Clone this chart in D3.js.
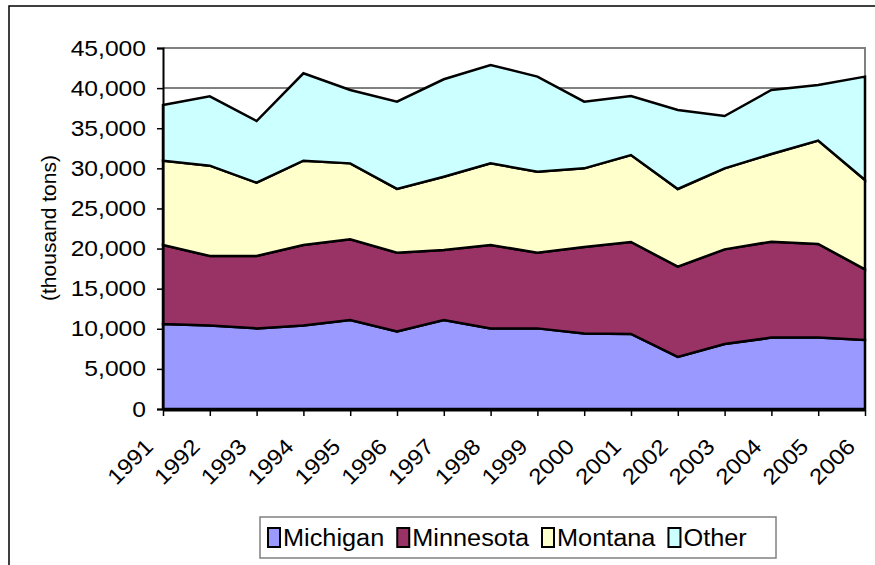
<!DOCTYPE html>
<html>
<head>
<meta charset="utf-8">
<script src="https://cdn.jsdelivr.net/npm/d3@7"></script>
<style>
  html, body { margin: 0; padding: 0; background: #fff; }
  svg { display: block; }
  text { font-family: "Liberation Sans", Arial, sans-serif; fill: #000; }
</style>
</head>
<body>
<svg id="chart" width="875" height="565"></svg>
<script>
const years = ["1991","1992","1993","1994","1995","1996","1997","1998","1999","2000","2001","2002","2003","2004","2005","2006"];
const seriesNames = ["Michigan", "Minnesota", "Montana", "Other"];
const michigan  = [10600, 10400, 10050, 10400, 11100, 9650, 11100, 10050, 10050, 9400, 9350, 6500, 8100, 8900, 8900, 8600];
const minnesota = [9850, 8670, 9020, 10040, 10050, 9840, 8720, 10390, 9440, 10800, 11470, 11240, 11800, 11960, 11670, 8810];
const montana   = [10500, 11260, 9140, 10510, 9470, 7940, 9140, 10180, 10090, 9800, 10840, 9690, 10100, 10930, 12880, 11140];
const other     = [6950, 8650, 7690, 10900, 9150, 10880, 12140, 12260, 11850, 8310, 7360, 9840, 6520, 7980, 6940, 12880];
const yTicks = [0, 5000, 10000, 15000, 20000, 25000, 30000, 35000, 40000, 45000];
const colors = ["#9999FF", "#993366", "#FFFFCC", "#CCFFFF"];
const yTitle = "(thousand tons)";

const svg = d3.select("#chart");
const pL = 163, pR = 865, pT = 48, pB = 409;

function stretch(sel, k) {
  sel.each(function () {
    const w = this.getComputedTextLength();
    d3.select(this).attr("textLength", w * k).attr("lengthAdjust", "spacingAndGlyphs");
  });
}

// outer frame
svg.append("rect").attr("x", 9).attr("y", 6).attr("width", 900).attr("height", 600)
  .attr("fill", "none").attr("stroke", "#000").attr("stroke-width", 1.5);

const table = years.map((yr, i) => ({
  year: yr, Michigan: michigan[i], Minnesota: minnesota[i], Montana: montana[i], Other: other[i]
}));
const stacked = d3.stack().keys(seriesNames)(table);

const x = d3.scalePoint().domain(years).range([pL, pR]);
const y = d3.scaleLinear().domain([0, 45000]).range([pB, pT]);

// gridlines
svg.append("g").selectAll("line").data(yTicks.filter(d => d > 0)).join("line")
  .attr("x1", pL).attr("x2", pR)
  .attr("y1", d => y(d)).attr("y2", d => y(d))
  .attr("stroke", "#808080").attr("stroke-width", 2);
// right border of plot area
svg.append("line").attr("x1", pR).attr("x2", pR).attr("y1", pT - 1).attr("y2", pB)
  .attr("stroke", "#808080").attr("stroke-width", 2);

// areas
const area = d3.area()
  .x(d => x(d.data.year))
  .y0(d => y(d[0]))
  .y1(d => y(d[1]));
svg.append("g").selectAll("path").data(stacked).join("path")
  .attr("d", area)
  .attr("fill", (d, i) => colors[i])
  .attr("stroke", "#000").attr("stroke-width", 2.5).attr("stroke-linejoin", "miter");

// y axis
const yAxis = d3.axisLeft(y).tickValues(yTicks).tickSize(6).tickPadding(11)
  .tickFormat(d3.format(","));
const gy = svg.append("g").attr("transform", `translate(${pL},0)`).call(yAxis);
gy.select(".domain").attr("stroke", "#000").attr("stroke-width", 2);
gy.selectAll(".tick line").attr("stroke", "#000").attr("stroke-width", 1.5);
gy.selectAll(".tick text").style("font-size", "22px")
  .style("font-family", '"Liberation Sans", Arial, sans-serif').attr("fill", "#000")
  .call(stretch, 1.12);

// x axis
const xAxis = d3.axisBottom(x).tickSize(6).tickSizeOuter(0).tickPadding(0);
const gx = svg.append("g").attr("transform", `translate(0,${pB + 1})`).call(xAxis);
gx.select(".domain").attr("stroke", "#000").attr("stroke-width", 2);
gx.selectAll(".tick line").attr("stroke", "#000").attr("stroke-width", 1.5);
gx.selectAll(".tick text")
  .style("font-size", "22px")
  .style("font-family", '"Liberation Sans", Arial, sans-serif')
  .attr("fill", "#000")
  .attr("text-anchor", "end")
  .attr("dy", null)
  .attr("y", null)
  .attr("transform", "translate(-9,38) rotate(-45)")
  .call(stretch, 1.1);

// y title
svg.append("text")
  .attr("transform", "translate(56,228) rotate(-90)")
  .attr("text-anchor", "middle")
  .style("font-size", "21px")
  .text(yTitle);

// legend
const lg = svg.append("g");
lg.append("rect").attr("x", 260).attr("y", 517).attr("width", 516).attr("height", 41)
  .attr("fill", "#fff").attr("stroke", "#808080").attr("stroke-width", 1.5);
let lx = 268;
seriesNames.forEach((name, i) => {
  lg.append("rect").attr("x", lx).attr("y", 528).attr("width", 12).attr("height", 19)
    .attr("fill", colors[i]).attr("stroke", "#000").attr("stroke-width", 2);
  const t = lg.append("text").attr("x", lx + 15).attr("y", 546)
    .style("font-size", "23px").text(name);
  const w = t.node().getComputedTextLength() * 1.1;
  t.attr("textLength", w).attr("lengthAdjust", "spacingAndGlyphs");
  lx = lx + 15 + w + 13;
});
</script>
</body>
</html>
